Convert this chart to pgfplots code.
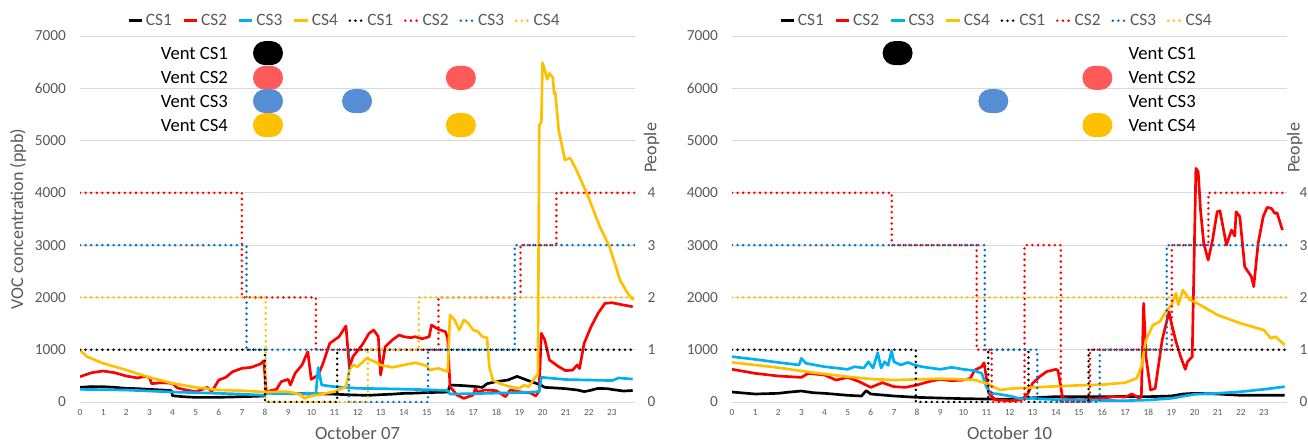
\documentclass[border=0pt]{standalone}
\usepackage{fontspec}
\setmainfont{Carlito}
\usepackage{pgfplots}
\pgfplotsset{compat=1.18}
\definecolor{tg}{HTML}{595959}
\definecolor{gridc}{HTML}{D9D9D9}
\definecolor{cstwo}{HTML}{FF0000}
\definecolor{csthree}{HTML}{00B0F0}
\definecolor{csfour}{HTML}{FFC000}
\definecolor{pthree}{HTML}{0070C0}
\definecolor{vred}{HTML}{FF5A5A}
\definecolor{vblue}{HTML}{558ED5}
\pgfdeclareplotmark{pill}{%
 \pgfpathmoveto{\pgfpoint{-2.25pt}{-9pt}}%
 \pgfpathlineto{\pgfpoint{2.25pt}{-9pt}}%
 \pgfpatharc{-90}{90}{9pt}%
 \pgfpathlineto{\pgfpoint{-2.25pt}{9pt}}%
 \pgfpatharc{90}{270}{9pt}%
 \pgfpathclose
 \pgfusepathqfill}
\pgfplotsset{
 sol/.style={line width=2pt, line join=round},
 dot/.style={line width=2.1pt, line cap=round, dash pattern=on 0pt off 4.2pt, const plot},
 vent/.style={only marks, mark=pill, forget plot},
 mainax/.style={scale only axis, width=416.25pt, height=274.5pt,
  xmin=0, xmax=24, ymin=0, ymax=7000,
  axis line style={draw=none}, major tick length=0pt,
  xtick={0,...,23}, ytick={0,1000,...,7000},
  ymajorgrids, grid style={gridc, line width=0.75pt},
  scaled y ticks=false,
  /pgf/number format/assume math mode=true,
  /pgf/number format/set thousands separator={},
  yticklabel style={font=\fontsize{11.5}{12}\selectfont, text=tg, xshift=-7pt},
  xticklabel style={font=\fontsize{7}{8}\selectfont, text=tg, yshift=-2pt},
  every axis x label/.style={at={(axis description cs:0.5,0)}, anchor=center, yshift=-23.5pt, font=\fontsize{14}{15}\selectfont, text=tg},
  legend columns=8,
  legend style={at={(axis description cs:0.477,1)}, anchor=center, yshift=11.5pt, draw=none, fill=none,
   font=\fontsize{13}{14}\selectfont, text=tg, /tikz/every even column/.append style={column sep=6pt}, inner sep=0pt},
  legend image code/.code={\draw[##1] (0pt,0pt) -- (10pt,0pt);},
 },
 secax/.style={scale only axis, width=416.25pt, height=274.5pt,
  xmin=0, xmax=24, ymin=0, ymax=7,
  axis y line*=right, hide x axis,
  axis line style={draw=none}, major tick length=0pt,
  ytick={0,...,4},
  /pgf/number format/assume math mode=true,
  yticklabel style={font=\fontsize{11.5}{12}\selectfont, text=tg, xshift=6pt},
  ylabel={People},
 },
}
\begin{document}
\begin{tikzpicture}
\useasboundingbox (0,0) rectangle (981pt,332.25pt);
% ================= LEFT PANEL: October 07 =================
\begin{axis}[mainax, at={(60pt,30.75pt)}, anchor=south west,
  xlabel={October 07},
  ylabel={VOC concentration (ppb)},
  every axis y label/.style={at={(axis description cs:0,0.5)}, xshift=-46.5pt, rotate=90, anchor=center, font=\fontsize{13.5}{14}\selectfont, text=tg}]
\addplot[sol, black] coordinates {(0,280)(0.5,295)(1,293)(1.5,280)(2,261)(2.5,255)(3,242)(3.5,230)(3.95,217)(4.0,120)(4.5,100)(5,89)(5.5,88)(6,90)(6.5,95)(7,102)(7.5,108)(7.95,115)(8.05,178)(8.5,175)(9,166)(9.5,160)(10,153)(10.5,155)(11,150)(11.5,140)(12,132)(12.5,128)(13,140)(13.5,150)(14,165)(14.5,170)(15,180)(15.5,185)(15.9,190)(16.0,325)(16.5,315)(17,300)(17.4,280)(17.6,350)(18,390)(18.5,420)(18.9,490)(19.2,440)(19.5,390)(19.9,330)(20.1,280)(20.5,270)(21,255)(21.5,230)(21.8,200)(22,215)(22.4,260)(22.8,255)(23,240)(23.5,210)(23.9,220)};
\addlegendentry{CS1}
\addplot[sol, cstwo] coordinates {(0,484)(0.3,530)(0.5,560)(1,593)(1.5,560)(2,497)(2.5,460)(2.8,490)(3.0,471)(3.1,350)(3.5,370)(4,357)(4.2,270)(4.6,229)(5,197)(5.3,240)(5.5,280)(5.7,200)(6,420)(6.3,471)(6.6,580)(7,644)(7.4,663)(7.8,727)(7.95,790)(8.05,197)(8.5,242)(8.7,389)(9,433)(9.1,325)(9.3,548)(9.6,708)(9.85,963)(10.0,433)(10.3,516)(10.5,727)(10.8,1122)(11.2,1249)(11.5,1453)(11.65,663)(11.8,867)(12.2,1090)(12.5,1313)(12.7,1377)(12.9,1249)(13.0,516)(13.2,1058)(13.5,1185)(13.8,1281)(14,1249)(14.3,1230)(14.5,1249)(14.8,1210)(15.1,1249)(15.2,1472)(15.5,1389)(15.8,1345)(15.9,1217)(16.0,293)(16.3,134)(16.6,70)(17.0,134)(17.1,261)(17.2,190)(17.5,229)(18,217)(18.4,102)(18.6,229)(19,197)(19.5,170)(19.7,115)(19.85,200)(19.95,1313)(20.1,1185)(20.3,803)(20.7,676)(21,600)(21.3,610)(21.5,708)(21.6,640)(21.8,1122)(22.1,1440)(22.4,1695)(22.7,1887)(23,1899)(23.5,1855)(23.9,1823)};
\addlegendentry{CS2}
\addplot[sol, csthree] coordinates {(0,242)(1,236)(2,229)(3,210)(4,191)(5,178)(6,166)(7,150)(8,127)(8.05,166)(9,160)(9.5,153)(10.2,166)(10.3,660)(10.45,325)(11,293)(11.5,280)(12,261)(13,255)(14,245)(15,235)(15.9,220)(16.0,153)(17,160)(18,170)(19,180)(19.85,197)(19.95,472)(20.5,450)(21,430)(22,420)(23,410)(23.3,460)(23.5,452)(23.9,439)};
\addlegendentry{CS3}
\addplot[sol, csfour] coordinates {(0,994)(0.3,867)(1,740)(2,612)(3,471)(4,357)(5,280)(6,229)(7,217)(8,191)(9,197)(9.5,150)(9.7,70)(10,115)(11,197)(11.5,293)(11.65,612)(11.8,708)(12,676)(12.4,835)(12.8,760)(13,708)(13.5,663)(14,708)(14.5,752)(15,689)(15.1,612)(15.5,644)(15.9,580)(16.0,1663)(16.2,1568)(16.4,1377)(16.6,1568)(16.8,1504)(17,1377)(17.2,1350)(17.4,1249)(17.6,1230)(17.7,676)(17.85,420)(18.2,344)(18.6,293)(19,261)(19.2,325)(19.4,290)(19.6,420)(19.8,535)(19.86,5296)(19.95,5350)(20.0,6488)(20.1,6350)(20.2,6170)(20.3,6285)(20.45,6200)(20.5,5900)(20.55,5920)(20.7,5200)(20.97,4627)(21.2,4665)(21.47,4436)(21.98,3925)(22.48,3352)(22.9,2970)(23.35,2333)(23.64,2109)(23.85,1983)(23.95,1960)};
\addlegendentry{CS4}
\addlegendimage{dot, black}\addlegendentry{CS1}
\addlegendimage{dot, cstwo}\addlegendentry{CS2}
\addlegendimage{dot, pthree}\addlegendentry{CS3}
\addlegendimage{dot, csfour}\addlegendentry{CS4}
% vent markers
\addplot[vent, black] coordinates {(8.13,6673)};
\addplot[vent, vred] coordinates {(8.13,6200)(16.47,6200)};
\addplot[vent, vblue] coordinates {(8.13,5755)(11.98,5755)};
\addplot[vent, csfour] coordinates {(8.13,5296)(16.47,5296)};
\node[anchor=east, font=\fontsize{14}{15}\selectfont] at (axis cs:6.6,6673) {Vent CS1};
\node[anchor=east, font=\fontsize{14}{15}\selectfont] at (axis cs:6.6,6200) {Vent CS2};
\node[anchor=east, font=\fontsize{14}{15}\selectfont] at (axis cs:6.6,5755) {Vent CS3};
\node[anchor=east, font=\fontsize{14}{15}\selectfont] at (axis cs:6.6,5296) {Vent CS4};
\end{axis}
\begin{axis}[secax, at={(60pt,30.75pt)}, anchor=south west,
  every axis y label/.style={at={(axis description cs:1.03,0.694)}, rotate=90, anchor=center, font=\fontsize{13.5}{14}\selectfont, text=tg}]
\addplot[dot, black] coordinates {(0,1)(8,0)(11.12,1)(24,1)};
\addplot[dot, cstwo] coordinates {(0,4)(7,2)(10.2,1)(15.5,2)(19.05,3)(20.6,4)(24,4)};
\addplot[dot, pthree] coordinates {(0,3)(7.2,1)(11.63,0)(15.05,1)(18.8,3)(24,3)};
\addplot[dot, csfour] coordinates {(0,2)(8.03,0)(12.45,1)(14.65,2)(24,2)};
\end{axis}
% ================= RIGHT PANEL: October 10 =================
\begin{axis}[mainax, at={(549pt,30.75pt)}, anchor=south west,
  xlabel={October 10}]
\addplot[sol, black] coordinates {(0,191)(1,153)(2,166)(2.5,191)(3,210)(3.5,178)(4,166)(5,128)(5.6,115)(5.8,217)(6,153)(7,115)(8,89)(9,76)(10,64)(11,57)(12,51)(13,80)(14,102)(15,102)(16,102)(17,105)(18,102)(19,115)(19.5,153)(20,166)(21,153)(22,128)(23,128)(23.9,128)};
\addlegendentry{CS1}
\addplot[sol, cstwo] coordinates {(0,625)(1,548)(2,497)(3,471)(3.3,548)(4,516)(4.5,420)(5,471)(5.5,389)(6,280)(6.5,370)(7,293)(7.5,280)(8,325)(8.5,389)(9,433)(9.5,408)(10,420)(10.3,450)(10.5,612)(10.8,676)(10.9,752)(11.1,166)(11.4,38)(12,25)(12.5,38)(12.8,166)(13,357)(13.3,484)(13.6,580)(14,625)(14.1,600)(14.3,70)(15,38)(16,70)(16.5,102)(17,95)(17.3,153)(17.6,70)(17.7,100)(17.8,1887)(17.9,867)(18.1,229)(18.3,261)(18.6,1185)(18.9,1727)(19.0,1504)(19.2,1154)(19.4,867)(19.6,625)(19.7,770)(19.9,867)(20.06,4468)(20.16,4403)(20.26,3671)(20.4,3033)(20.59,2715)(20.78,3097)(20.98,3639)(21.1,3658)(21.38,3002)(21.6,3289)(21.74,3174)(21.8,3639)(21.96,3543)(22.17,2588)(22.46,2397)(22.56,2206)(22.75,3033)(22.97,3543)(23.14,3722)(23.33,3702)(23.47,3607)(23.57,3620)(23.8,3289)};
\addlegendentry{CS2}
\addplot[sol, csthree] coordinates {(0,867)(1,815)(2,757)(2.9,708)(3.0,835)(3.2,740)(4,675)(5,625)(5.3,675)(5.7,650)(5.9,770)(6.1,650)(6.3,943)(6.45,650)(6.6,770)(6.75,700)(6.9,981)(7.0,770)(7.3,708)(7.6,757)(7.9,708)(8.2,675)(9,625)(9.5,663)(10,625)(10.5,600)(10.8,548)(11,290)(11.2,166)(11.5,153)(12,115)(12.5,60)(13,70)(14,45)(15,38)(16,30)(17,25)(18,38)(19,70)(19.5,110)(20,147)(21,166)(22,197)(23,242)(23.9,293)};
\addlegendentry{CS3}
\addplot[sol, csfour] coordinates {(0,757)(1,708)(2,657)(3,593)(4,535)(5,484)(6,440)(7,420)(8,433)(9,446)(10,433)(10.5,420)(11,357)(11.3,293)(11.6,229)(12,255)(13,280)(14,300)(15,319)(16,331)(17,370)(17.5,453)(17.7,676)(17.9,1185)(18.2,1472)(18.5,1536)(18.8,1759)(19,1854)(19.2,2077)(19.3,1855)(19.5,2141)(19.8,1950)(20,1918)(20.5,1790)(21,1663)(22,1504)(22.5,1440)(23,1377)(23.3,1217)(23.5,1250)(23.9,1090)};
\addlegendentry{CS4}
\addlegendimage{dot, black}\addlegendentry{CS1}
\addlegendimage{dot, cstwo}\addlegendentry{CS2}
\addlegendimage{dot, pthree}\addlegendentry{CS3}
\addlegendimage{dot, csfour}\addlegendentry{CS4}
\addplot[vent, black] coordinates {(7.16,6673)};
\addplot[vent, vred] coordinates {(15.8,6200)};
\addplot[vent, vblue] coordinates {(11.3,5755)};
\addplot[vent, csfour] coordinates {(15.8,5296)};
\node[anchor=west, font=\fontsize{14}{15}\selectfont] at (axis cs:16.95,6673) {Vent CS1};
\node[anchor=west, font=\fontsize{14}{15}\selectfont] at (axis cs:16.95,6200) {Vent CS2};
\node[anchor=west, font=\fontsize{14}{15}\selectfont] at (axis cs:16.95,5755) {Vent CS3};
\node[anchor=west, font=\fontsize{14}{15}\selectfont] at (axis cs:16.95,5296) {Vent CS4};
\end{axis}
\begin{axis}[secax, at={(549pt,30.75pt)}, anchor=south west,
  every axis y label/.style={at={(axis description cs:1.014,0.694)}, rotate=90, anchor=center, font=\fontsize{13.5}{14}\selectfont, text=tg}]
\addplot[dot, black] coordinates {(0,1)(7.95,0)(11.08,1)(12.82,0)(15.42,1)(24,1)};
\addplot[dot, cstwo] coordinates {(0,4)(6.91,3)(10.58,1)(11.23,0)(12.65,3)(14.22,0)(15.48,1)(19.02,3)(20.6,4)(24,4)};
\addplot[dot, pthree] coordinates {(0,3)(10.93,1)(13.2,0)(15.9,1)(18.8,3)(24,3)};
\addplot[dot, csfour] coordinates {(0,2)(24,2)};
\end{axis}
\end{tikzpicture}
\end{document}
